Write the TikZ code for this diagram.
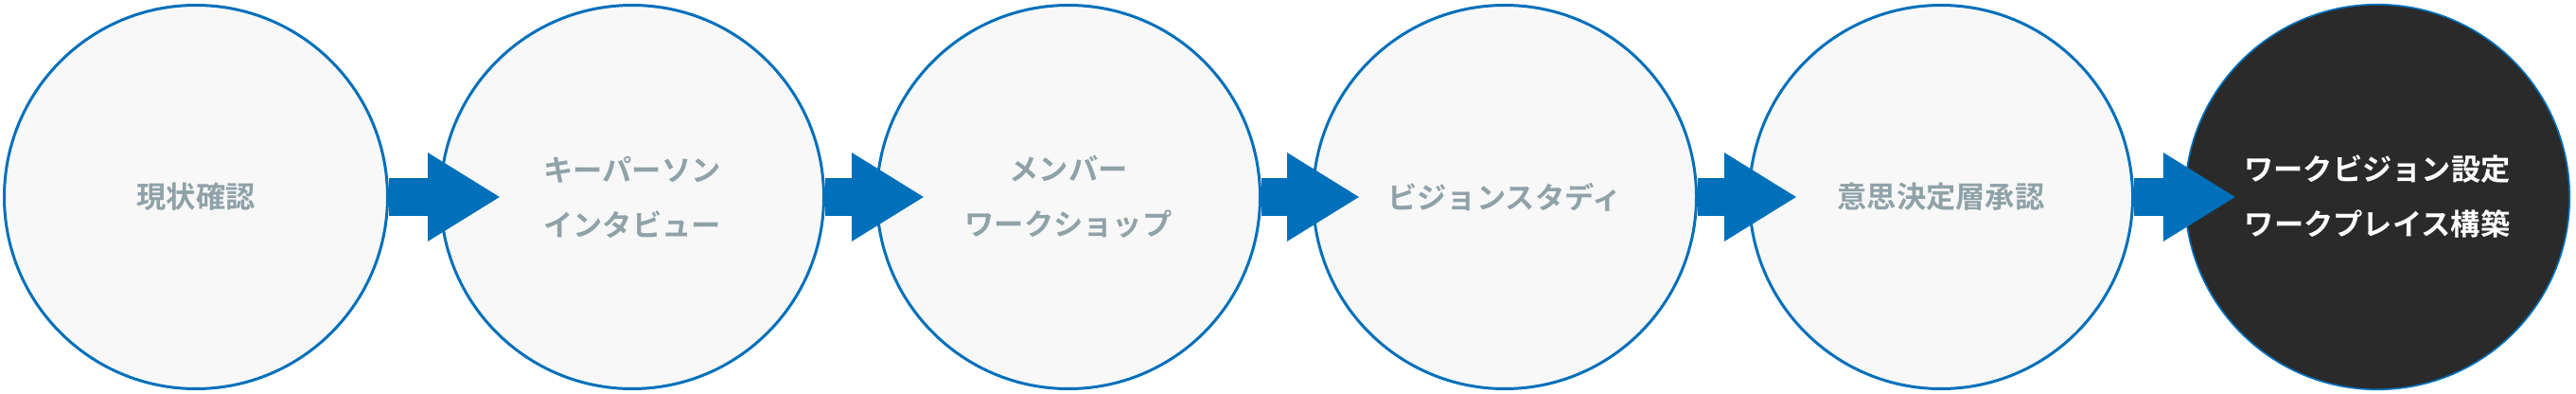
\documentclass[tikz,border=0pt]{standalone}
\usepackage{fontspec}
\newfontfamily\jpfont{Noto Sans CJK JP}[BoldFont={Noto Sans CJK JP Bold}]
\usepackage{xcolor}
\definecolor{flowblue}{RGB}{0,112,187}
\definecolor{steplight}{RGB}{248,248,248}
\definecolor{stepdark}{RGB}{42,42,42}
\definecolor{steptext}{RGB}{143,162,168}
\usetikzlibrary{arrows.meta,calc}
\tikzset{
  stepnode/.style={draw=flowblue, line width=0.03cm, circle, fill=#1,
                   minimum size=4.05cm, inner sep=0pt, align=center,
                   font=\jpfont\fontsize{8.9pt}{16.5pt}\selectfont\bfseries},
  goalnode/.style={stepnode=stepdark, line width=0.017cm, minimum size=4.065cm, text=white},
  flow/.style={flowblue, line width=0.4cm,
               -{Triangle[length=7.7mm, width=8.8mm]}},
}
\begin{document}
\begin{tikzpicture}
\useasboundingbox (0,-2.08) rectangle (27.22,2.08);

% --- Steps ---
\node[stepnode=steplight, text=steptext] (genjo) at (2.07,0) {現状確認};
\node[stepnode=steplight, text=steptext] (keyperson) at (6.68,0) {キーパーソン\\インタビュー};
\node[stepnode=steplight, text=steptext] (workshop) at (11.29,0) {メンバー\\ワークショップ};
\node[stepnode=steplight, text=steptext] (study) at (15.90,0) {ビジョンスタディ};
\node[stepnode=steplight, text=steptext] (approval) at (20.51,0) {意思決定層承認};
\node[goalnode] (goal) at (25.12,0) {ワークビジョン設定\\ワークプレイス構築};

% --- Arrows ---
\draw[flow] (genjo.east) -- ([xshift=0.65cm]keyperson.west);
\draw[flow] (keyperson.east) -- ([xshift=0.52cm]workshop.west);
\draw[flow] (workshop.east) -- ([xshift=0.51cm]study.west);
\draw[flow] (study.east) -- ([xshift=0.52cm]approval.west);
\draw[flow] (approval.east) -- ([xshift=0.55cm]goal.west);

\end{tikzpicture}
\end{document}
